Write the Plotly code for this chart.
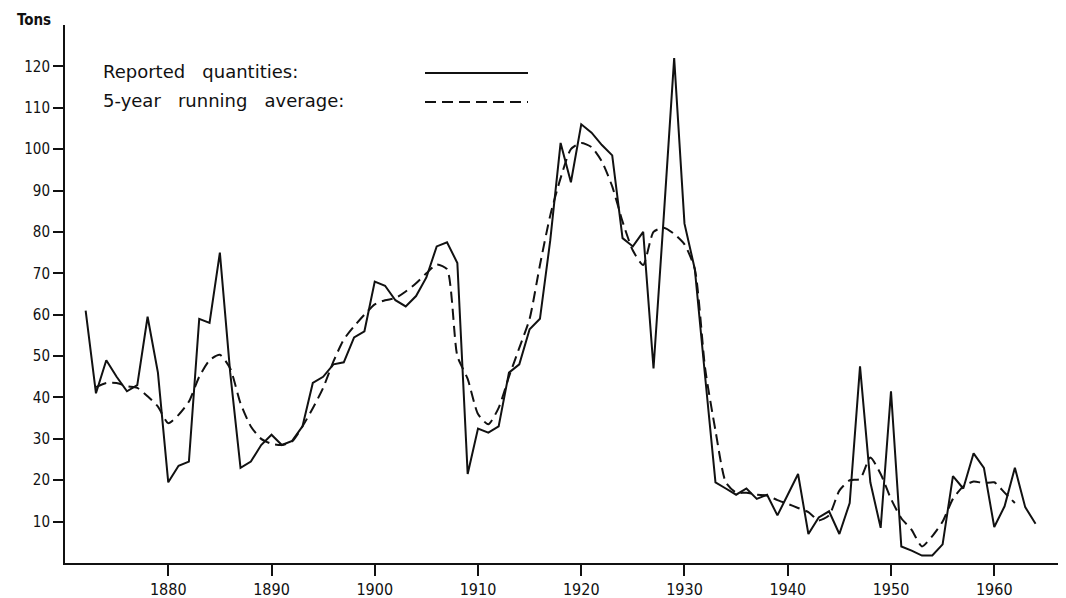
import plotly.graph_objects as go

# ---- data ----
years_reported = list(range(1872, 1965))
reported = [
    61, 41, 49, 45, 41.5, 43, 59.5, 46, 19.5, 23.5,          # 1872-1881
    24.5, 59, 58, 75, 46, 23, 24.5, 28.5, 31, 28.5,          # 1882-1891
    29.5, 33, 43.5, 45, 48, 48.5, 54.5, 56, 68, 67,          # 1892-1901
    63.5, 62, 64.5, 69, 76.5, 77.5, 72.5, 21.5, 32.5, 31.5,  # 1902-1911
    33, 46, 48, 56.5, 59, 78, 101.5, 92, 106, 104,           # 1912-1921
    101, 98.5, 78.5, 76.5, 80, 47, 84, 122, 82, 71,          # 1922-1931
    45, 19.5, 18, 16.5, 18, 15.5, 16.5, 11.5, 16.5, 21.5,    # 1932-1941
    7, 11, 12.5, 7, 14.5, 47.5, 19.5, 8.5, 41.5, 4,          # 1942-1951
    3, 1.8, 1.8, 4.5, 21, 18, 26.5, 23, 8.7, 13.7,           # 1952-1961
    23, 13.5, 9.5,                                           # 1962-1964
]

years_average = list(range(1873, 1963))
running_avg = [
    42.5, 43.5, 43.5, 42.7, 42.3, 40.3, 37.8, 33.8, 35.8,     # 1873-1881
    39, 45, 49, 50.3, 47, 38.6, 33, 30, 28.8, 28.5,           # 1882-1891
    29.4, 33, 37.4, 42.3, 48.7, 54, 57.2, 60, 62.5, 63.5,     # 1892-1901
    64, 65.6, 67.6, 70, 72.1, 71, 50, 44.5, 36, 33.5,         # 1902-1911
    37.5, 45, 52, 59, 72, 84, 93, 100, 101.5, 100.5,          # 1912-1921
    97, 91, 82.5, 75.5, 72, 80, 81, 79.5, 77, 71,             # 1922-1931
    47, 32, 19.5, 17, 17, 16.5, 16.3, 15.2, 14.3, 13.3,       # 1932-1941
    12.3, 10.3, 11.5, 17.5, 20, 20.3, 25.5, 21.5, 15.5, 10.8, # 1942-1951
    8, 4, 6.5, 10, 15.5, 18.5, 19.7, 19.3, 19.5, 17,          # 1952-1961
    14.5,                                                     # 1962
]

x_ticks = [1880, 1890, 1900, 1910, 1920, 1930, 1940, 1950, 1960]
y_ticks = [10, 20, 30, 40, 50, 60, 70, 80, 90, 100, 110, 120]

legend_labels = ["Reported\u00a0\u00a0 quantities:", "5-year\u00a0\u00a0 running\u00a0\u00a0 average:"]
y_title = "Tons"

# ---- figure ----
INK = "#111111"
DASH = "11px,6px"
fig = go.Figure()
fig.add_trace(go.Scatter(
    x=years_reported, y=reported, mode="lines",
    line=dict(color=INK, width=2), name="Reported quantities", showlegend=False,
))
fig.add_trace(go.Scatter(
    x=years_average, y=running_avg, mode="lines",
    line=dict(color=INK, width=2, dash=DASH, shape="spline", smoothing=0.6),
    name="5-year running average", showlegend=False,
))

# the page puts the figure 8px in from the top-left corner
OFF = 8
W, H = 1066 - OFF, 598 - OFF
L, R, T, B = 65 - OFF, 0, 25 - OFF, 598 - 563.3
pw, ph = W - L - R, H - T - B


def px(xp):
    """page pixel x -> paper fraction"""
    return (xp - OFF - L) / pw


def py(yp):
    """page pixel y -> paper fraction"""
    return (H - B - (yp - OFF)) / ph


fig.update_layout(
    width=W, height=H,
    margin=dict(l=L, r=R, t=T, b=B, pad=0),
    paper_bgcolor="white", plot_bgcolor="white",
    font=dict(family="DejaVu Sans Condensed, DejaVu Sans", color=INK),
    xaxis=dict(
        range=[1870.0, 1966.95], tickvals=x_ticks,
        showgrid=False, zeroline=False, showline=True, linecolor=INK, linewidth=2,
        ticks="outside", ticklen=11, tickwidth=2, tickcolor=INK,
        tickfont=dict(size=16, family="DejaVu Sans Condensed, DejaVu Sans", color=INK),
    ),
    yaxis=dict(
        range=[0, 130], tickvals=y_ticks,
        showgrid=False, zeroline=False, showline=True, linecolor=INK, linewidth=2,
        ticks="outside", ticklen=10, tickwidth=2, tickcolor=INK,
        tickfont=dict(size=15, family="DejaVu Sans Condensed, DejaVu Sans", color=INK),
    ),
    showlegend=False,
)

# axis label
fig.add_annotation(text="<b>" + y_title + "</b>", xref="paper", yref="paper",
                   x=px(15), y=py(20), xanchor="left", yanchor="middle",
                   showarrow=False,
                   font=dict(size=15, family="DejaVu Sans Condensed, DejaVu Sans", color=INK))

# hand-made legend: text on the left, line sample on the right
legend_rows = [(72, "solid"), (101, DASH)]
for (ypos, dash), label in zip(legend_rows, legend_labels):
    fig.add_annotation(text=label, xref="paper", yref="paper",
                       x=px(101), y=py(ypos), xanchor="left", yanchor="middle",
                       showarrow=False, font=dict(size=18, family="DejaVu Sans", color=INK))
    fig.add_shape(type="line", xref="paper", yref="paper",
                  x0=px(425), x1=px(528), y0=py(ypos + 1), y1=py(ypos + 1),
                  line=dict(color=INK, width=2, dash=dash))

fig.write_html("out.html")
